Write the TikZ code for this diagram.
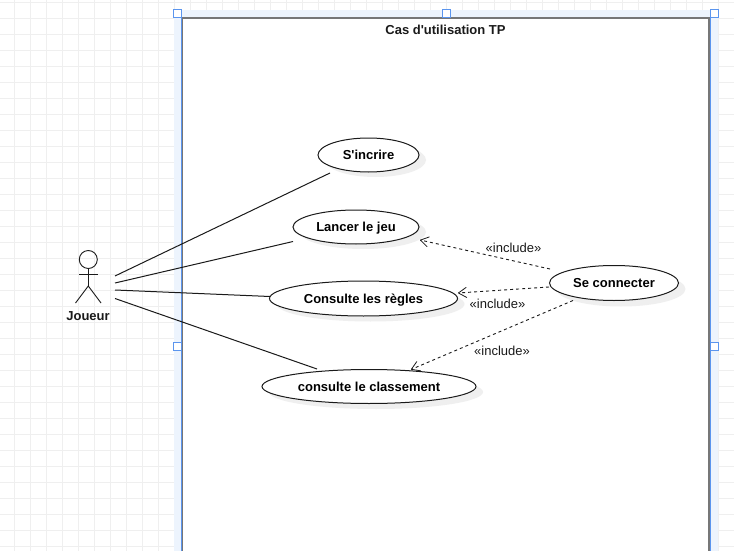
\documentclass[tikz,border=0pt]{standalone}
\usepackage{fontspec}
\setmainfont{Liberation Sans}
\newfontfamily\plainsans{Liberation Sans}
\usetikzlibrary{arrows.meta,shapes.geometric}
\definecolor{gridc}{HTML}{EFEFEF}
\definecolor{bandc}{HTML}{EDF4FD}
\definecolor{blueh}{HTML}{5B95EE}
\definecolor{boxg}{HTML}{777777}
\definecolor{shad}{HTML}{EFEFEF}
\definecolor{inkc}{HTML}{1A1A1A}
\tikzset{
  usecase/.style={ellipse,draw=inkc,line width=1pt,fill=white,inner sep=0pt,text height=9.5pt,text depth=0pt,font=\plainsans\fontsize{13}{15}\selectfont\bfseries,text=black},
  usecasesh/.style={ellipse,fill=shad,inner sep=0pt},
  assoc/.style={draw=inkc,line width=1pt},
  incl/.style={draw=inkc,line width=.9pt,dash pattern=on 3pt off 3pt,-{Straight Barb[length=8pt,width=10pt,line width=.8pt,round]}},
  lab/.style={font=\plainsans\fontsize{13}{15}\selectfont,text=inkc,inner sep=0pt},
  handle/.style={draw=blueh,fill=white,line width=1pt,minimum size=8pt,inner sep=0pt,shape=rectangle},
  limb/.style={draw=inkc,line width=.9pt},
}
\begin{document}
\begin{tikzpicture}[x=1pt,y=-1pt]
\useasboundingbox (0,0) rectangle (734,551);
\fill[white] (0,0) rectangle (734,551);
\foreach \i in {0,...,45} {\draw[gridc,line width=1pt] ({14.5+16*\i},0) -- ({14.5+16*\i},551);}
\foreach \i in {0,...,34} {\draw[gridc,line width=1pt] (0,{2.5+16*\i}) -- (734,{2.5+16*\i});}
% selection band
\fill[bandc] (174,10) rectangle (718,551);
\fill[white] (182,18) rectangle (709,551);
\draw[boxg,line width=1.6pt] (182.5,551) -- (182.5,18.3) -- (709,18.3) -- (709,551);
\draw[blueh,line width=1.2pt] (181.5,12) -- (181.5,551);
\draw[blueh,line width=1.2pt] (710.5,12) -- (710.5,551);
\node[handle] (h1) at (177.5,13.5) {};
\node[handle] (h2) at (446.5,13.5) {};
\node[handle] (h3) at (714.5,13.5) {};
\node[handle] (h4) at (177.5,346.5) {};
\node[handle] (h5) at (714.5,346.5) {};
\node[font=\plainsans\fontsize{13}{15}\selectfont\bfseries,inner sep=0pt,text=inkc] (title) at (445.5,30) {Cas d'utilisation TP};
% actor
\node[circle,limb,fill=none,minimum size=18pt,inner sep=0pt] (head) at (88.3,259.5) {};
\coordinate (hip) at (88.3,286);
\coordinate (arml) at (79,274.5);
\coordinate (armr) at (97.5,274.5);
\coordinate (legl) at (75.5,303);
\coordinate (legr) at (101,303);
\draw[limb] (head.south) -- (hip);
\draw[limb] (arml) -- (armr);
\draw[limb] (legl) -- (hip) -- (legr);
\node[font=\plainsans\fontsize{13}{15}\selectfont\bfseries,inner sep=0pt,text=inkc] (joueur) at (88,316) {Joueur};
% shadows
\node[usecasesh,minimum width=101pt,minimum height=34pt] (s1) at (375.5,160) {};
\node[usecasesh,minimum width=126pt,minimum height=34pt] (s2) at (363,232) {};
\node[usecasesh,minimum width=188pt,minimum height=35pt] (s3) at (370.5,304) {};
\node[usecasesh,minimum width=214pt,minimum height=34pt] (s4) at (376,392) {};
\node[usecasesh,minimum width=129pt,minimum height=35pt] (s5) at (621,289) {};
% use cases
\node[usecase,minimum width=101pt,minimum height=34pt] (inscr) at (368.5,155) {S'incrire};
\node[usecase,minimum width=126pt,minimum height=34pt] (lancer) at (356,227) {Lancer le jeu};
\node[usecase,minimum width=188pt,minimum height=35pt] (regles) at (363.5,298.5) {Consulte les règles};
\node[usecase,minimum width=214pt,minimum height=34pt] (classe) at (369,386.5) {consulte le classement};
\node[usecase,minimum width=129pt,minimum height=35pt] (conn) at (614,283) {Se connecter};
% free ends
\coordinate (a1) at (115,276);
\coordinate (a2) at (115,283);
\coordinate (a3) at (115,290);
\coordinate (a4) at (115,298.5);
\coordinate (e1) at (330,173);
\coordinate (e2) at (293,241.5);
\coordinate (e3) at (270,296.5);
\coordinate (e4) at (317,369);
\draw[assoc] (a1) -- (e1);
\draw[assoc] (a2) -- (e2);
\draw[assoc] (a3) -- (e3);
\draw[assoc] (a4) -- (e4);
\coordinate (c1) at (550,269);
\coordinate (c2) at (549,287);
\coordinate (c3) at (573,300.5);
\coordinate (t1) at (420,240);
\coordinate (t2) at (458,293);
\coordinate (t3) at (411,369.5);
\draw[incl] (c1) -- (t1);
\draw[incl] (c2) -- (t2);
\draw[incl] (c3) -- (t3);
\node[lab] (l1) at (513.5,248) {«include»};
\node[lab] (l2) at (497.5,304) {«include»};
\node[lab] (l3) at (502,351) {«include»};
\end{tikzpicture}
\end{document}
